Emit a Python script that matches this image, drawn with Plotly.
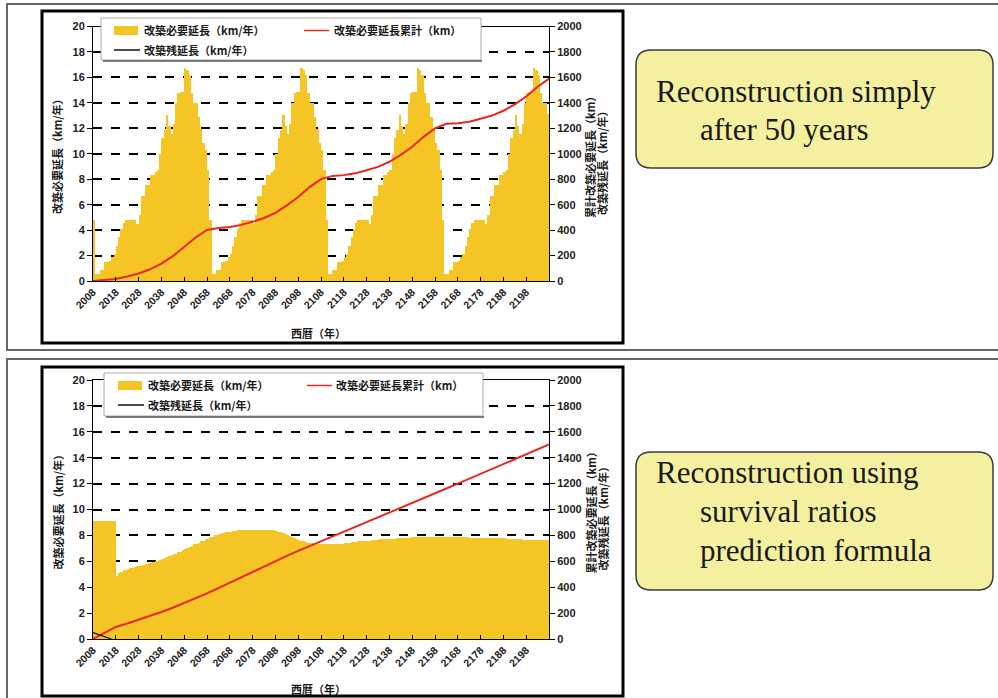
import plotly.graph_objects as go

W, H = 998, 698

# ---------------- data ----------------
years = list(range(2008, 2208))

# top chart: annual required reconstruction length (km/year), 50-ish-year cycles
top_bars_2008 = [4.8, 0.6, 0.6, 0.9, 0.9, 1.5, 1.5, 1.6, 1.9, 2.2,
                 2.8, 3.5, 4.1, 4.6, 4.8, 4.8, 4.8, 4.8, 4.8, 4.5,
                 5.2, 6.7, 6.7, 7.6, 7.6, 8.4, 8.4, 8.6, 8.8, 10.0,
                 11.3, 11.9, 13.1, 12.2, 11.6, 12.4, 14.0, 14.8, 14.9, 14.9,
                 16.8, 16.6, 16.2, 14.8, 14.0, 14.0, 12.9, 12.0, 10.9, 10.3,
                 8.8]
top_bars_2059 = [4.8, 0.6, 0.6, 0.9, 0.9, 1.5, 1.5, 1.6, 1.9, 2.2,
                 2.8, 3.5, 4.1, 4.6, 4.8, 4.8, 4.8, 4.8, 4.8, 4.5,
                 5.2, 6.7, 6.7, 7.6, 7.6, 8.4, 8.4, 8.6, 8.8, 10.0,
                 11.3, 11.9, 13.1, 12.2, 11.6, 12.4, 14.0, 14.8, 14.9, 14.9,
                 16.8, 16.6, 16.2, 14.8, 14.0, 14.0, 12.9, 12.0, 10.9, 10.3,
                 8.8]
top_bars_2110 = [4.8, 0.6, 0.6, 0.9, 0.9, 1.5, 1.5, 1.6, 1.9, 2.2,
                 2.8, 3.5, 4.1, 4.6, 4.8, 4.8, 4.8, 4.8, 4.8, 4.5,
                 5.2, 6.7, 6.7, 7.6, 7.6, 8.4, 8.4, 8.6, 8.8, 10.0,
                 11.3, 11.9, 13.1, 12.2, 11.6, 12.4, 14.0, 14.8, 14.9, 14.9,
                 16.8, 16.6, 16.2, 14.8, 14.0, 14.0, 12.9, 12.0, 10.9, 10.3,
                 8.8]
top_bars_2161 = [4.8, 0.6, 0.6, 0.9, 0.9, 1.5, 1.5, 1.6, 1.9, 2.2,
                 2.8, 3.5, 4.1, 4.6, 4.8, 4.8, 4.8, 4.8, 4.8, 4.5,
                 5.2, 6.7, 6.7, 7.6, 7.6, 8.4, 8.4, 8.6, 8.8, 10.0,
                 11.3, 11.9, 13.1, 12.2, 11.6, 12.4, 14.0, 14.8, 14.9, 14.9,
                 16.8, 16.6, 16.2, 14.8, 14.0, 14.0, 13.2]

cum_years = list(range(2008, 2209, 5))
top_cum = [0, 8, 16, 36, 59, 92, 136, 195, 265, 342,
           401, 417, 424, 441, 465, 495, 536, 594, 660, 738,
           801, 826, 832, 846, 870, 897, 937, 991, 1055, 1133,
           1199, 1235, 1240, 1252, 1275, 1300, 1338, 1388, 1450, 1527,
           1590]

# bottom chart: survival-ratio prediction
bottom_bars_2008 = [9.1, 9.1, 9.1, 9.1, 9.1, 9.1, 9.1, 9.1, 9.1, 9.1,
                    4.9, 5.1, 5.2, 5.3, 5.35, 5.4, 5.45, 5.5, 5.55, 5.6,
                    5.65, 5.7, 5.75, 5.8, 5.85, 5.9, 5.95, 6.0, 6.05, 6.1,
                    6.2, 6.25, 6.3, 6.4, 6.45, 6.55, 6.6, 6.7, 6.75, 6.85,
                    6.95, 7.05, 7.1, 7.2, 7.3, 7.35, 7.45, 7.55, 7.6, 7.7]
bottom_bars_2058 = [7.75, 7.85, 7.9, 8.0, 8.05, 8.1, 8.15, 8.2, 8.25, 8.3,
                    8.3, 8.35, 8.35, 8.4, 8.4, 8.4, 8.45, 8.45, 8.45, 8.45,
                    8.45, 8.45, 8.45, 8.45, 8.45, 8.45, 8.45, 8.4, 8.4, 8.4,
                    8.35, 8.3, 8.25, 8.2, 8.1, 8.05, 7.95, 7.9, 7.8, 7.75,
                    7.65, 7.6, 7.55, 7.5, 7.45, 7.4, 7.4, 7.35, 7.35, 7.35]
bottom_bars_2108 = [7.3, 7.3, 7.3, 7.3, 7.3, 7.3, 7.35, 7.35, 7.35, 7.35,
                    7.4, 7.45, 7.45, 7.5, 7.5, 7.5, 7.55, 7.55, 7.55, 7.6,
                    7.6, 7.6, 7.65, 7.65, 7.65, 7.7, 7.7, 7.7, 7.7, 7.75,
                    7.75, 7.75, 7.75, 7.8, 7.8, 7.8, 7.8, 7.8, 7.8, 7.85,
                    7.85, 7.85, 7.85, 7.85, 7.85, 7.85, 7.85, 7.85, 7.85, 7.85]
bottom_bars_2158 = [7.85, 7.85, 7.85, 7.85, 7.85, 7.85, 7.85, 7.85, 7.85, 7.85,
                    7.85, 7.85, 7.85, 7.85, 7.85, 7.8, 7.8, 7.8, 7.8, 7.8,
                    7.8, 7.8, 7.8, 7.8, 7.8, 7.8, 7.8, 7.8, 7.8, 7.8,
                    7.8, 7.75, 7.75, 7.75, 7.7, 7.7, 7.7, 7.7, 7.65, 7.65,
                    7.65, 7.65, 7.65, 7.65, 7.65, 7.65, 7.65, 7.65, 7.65, 7.65]
bottom_cum = [0, 46, 93, 120, 148, 177, 208, 241, 276, 313,
              352, 393, 435, 477, 519, 561, 602, 642, 680, 717,
              752, 786, 823, 860, 898, 936, 974, 1011, 1049, 1087,
              1125, 1162, 1200, 1238, 1276, 1313, 1351, 1389, 1427, 1464,
              1502]
remain_years = [2008, 2009, 2010, 2011, 2012, 2013, 2014, 2015, 2016]
bottom_remain = [50, 44, 38, 31, 25, 19, 12, 6, 0]

x_tick_vals = list(range(2008, 2209, 10))
x_tick_labels = [str(v) for v in range(2008, 2199, 10)] + [""]

legend_labels = ["改築必要延長（km/年）", "改築必要延長累計（km）", "改築残延長（km/年）"]
y_left_title = "改築必要延長（km/年）"
y_right_title1 = "累計改築必要延長（km）"
y_right_title2 = "改築残延長（km/年）"
x_title = "西暦（年）"
box_top_lines = ["Reconstruction simply", "after 50 years"]
box_bottom_lines = ["Reconstruction using", "survival ratios", "prediction formula"]

# ---------------- style ----------------
BAR = "rgb(244,197,36)"
RED = "#E8271D"
JP = "Noto Sans CJK JP"
NUM = "Liberation Sans"


def px(x):
    return x / W


def py(y):
    return 1 - y / H


top_bars = top_bars_2008 + top_bars_2059 + top_bars_2110 + top_bars_2161
bottom_bars = bottom_bars_2008 + bottom_bars_2058 + bottom_bars_2108 + bottom_bars_2158

fig = go.Figure()
fig.add_trace(go.Bar(x=years, y=top_bars, width=1, offset=0,
                     marker=dict(color=BAR, line=dict(width=0)),
                     xaxis="x", yaxis="y", showlegend=False))
fig.add_trace(go.Scatter(x=cum_years, y=top_cum, mode="lines",
                         line=dict(color=RED, width=2),
                         xaxis="x", yaxis="y2", showlegend=False))
fig.add_trace(go.Bar(x=years, y=bottom_bars, width=1, offset=0,
                     marker=dict(color=BAR, line=dict(width=0)),
                     xaxis="x2", yaxis="y3", showlegend=False))
fig.add_trace(go.Scatter(x=cum_years, y=bottom_cum, mode="lines",
                         line=dict(color=RED, width=2),
                         xaxis="x2", yaxis="y4", showlegend=False))
fig.add_trace(go.Scatter(x=remain_years, y=bottom_remain, mode="lines",
                         line=dict(color="#111", width=1.3),
                         xaxis="x2", yaxis="y4", showlegend=False))

xdom = [px(93), px(549)]
top_dom = [py(281), py(26.5)]
bot_dom = [py(639), py(380)]

numfont = dict(family=NUM, size=11, color="#222", weight="bold")
xfont = dict(family=NUM, size=10.5, color="#222", weight="bold")


def xax(anchor):
    return dict(domain=xdom, anchor=anchor, range=[2008, 2208], automargin=False,
                tickmode="array", tickvals=x_tick_vals, ticktext=x_tick_labels,
                tickangle=-45, ticks="inside", ticklen=4, tickcolor="black",
                tickwidth=1, showline=True, linecolor="black", linewidth=1,
                mirror=True, showgrid=False, zeroline=False, tickfont=xfont)


def yleft(dom, anchor):
    return dict(domain=dom, anchor=anchor, range=[0, 20], dtick=2, automargin=False,
                ticks="outside", ticklen=5, tickcolor="black",
                showline=True, linecolor="black", linewidth=1,
                showgrid=True, griddash="dash", gridcolor="black",
                gridwidth=1.5, zeroline=False, tickfont=numfont)


def yright(over, anchor):
    return dict(overlaying=over, anchor=anchor, side="right", automargin=False,
                range=[0, 2000], dtick=200, ticks="outside", ticklen=5,
                tickcolor="black", showline=True, linecolor="black",
                linewidth=1, showgrid=False, zeroline=False, tickfont=numfont)


fig.update_layout(
    template="none",
    autosize=False,
    width=W, height=H, margin=dict(l=0, r=0, t=0, b=0, pad=0, autoexpand=False),
    paper_bgcolor="white", plot_bgcolor="white", showlegend=False,
    bargap=0,
    xaxis=xax("y"), yaxis=yleft(top_dom, "x"), yaxis2=yright("y", "x"),
    xaxis2=xax("y3"), yaxis3=yleft(bot_dom, "x2"), yaxis4=yright("y3", "x2"),
)

shapes = []
ann = []


def rect(x0, y0, x1, y1, **kw):
    shapes.append(dict(type="rect", xref="paper", yref="paper",
                       x0=px(x0), x1=px(x1), y0=py(y1), y1=py(y0), **kw))


def hline(x0, x1, y, color, width):
    shapes.append(dict(type="line", xref="paper", yref="paper",
                       x0=px(x0), x1=px(x1), y0=py(y), y1=py(y),
                       line=dict(color=color, width=width)))


def text(x, y, s, size, xanchor="left", angle=0, family=JP, bold=True, color="#1a1a1a"):
    ann.append(dict(x=px(x), y=py(y), xref="paper", yref="paper",
                    text=s, showarrow=False, xanchor=xanchor, yanchor="middle",
                    textangle=angle,
                    font=dict(family=family, size=size, color=color,
                              weight="bold" if bold else "normal")))


def rounded(x0, y0, x1, y1, r):
    pts = [
        ("M", [(x0 + r, y0)]), ("L", [(x1 - r, y0)]), ("Q", [(x1, y0), (x1, y0 + r)]),
        ("L", [(x1, y1 - r)]), ("Q", [(x1, y1), (x1 - r, y1)]),
        ("L", [(x0 + r, y1)]), ("Q", [(x0, y1), (x0, y1 - r)]),
        ("L", [(x0, y0 + r)]), ("Q", [(x0, y0), (x0 + r, y0)]),
    ]
    d = ""
    for cmd, ps in pts:
        d += cmd + " " + " ".join(f"{px(a):.5f},{py(b):.5f}" for a, b in ps) + " "
    d += "Z"
    shapes.append(dict(type="path", xref="paper", yref="paper", path=d,
                       fillcolor="rgb(245,240,160)",
                       line=dict(color="#3a3a3a", width=1.5), layer="above"))


# outer panel frames
rect(7, 4, 1010, 350, line=dict(color="#666", width=2), layer="below")
rect(7, 359, 1010, 720, line=dict(color="#666", width=2), layer="below")
# inner chart frames
rect(42, 11, 623, 343, line=dict(color="black", width=3), layer="below")
rect(42, 367, 623, 696, line=dict(color="black", width=3), layer="below")

for off, (bx0, bx1, by0, by1), sw_x, red_x, txt2_x in [
    (0, (101, 481, 18, 60), 114, 304, 332),
    (355, (104, 483, 373 - 355, 416 - 355), 118, 307, 334),
]:
    rect(bx0, by0 + off, bx1, by1 + off, fillcolor="white",
         line=dict(color="#aaa", width=1), layer="above")
    hline(bx0 + 2, bx1 + 1, by1 + off + 1, "#555", 1.5)
    r1 = 30.5 + off
    r2 = 50 + off
    rect(sw_x, r1 - 4.5, sw_x + 24, r1 + 4.5, fillcolor=BAR, line=dict(width=0), layer="above")
    text(sw_x + 28, r1, legend_labels[0], 11)
    hline(red_x, red_x + 25, r1, RED, 1.5)
    text(txt2_x, r1, legend_labels[1], 11)
    hline(sw_x, sw_x + 26, r2, "#111", 1.5)
    text(sw_x + 28, r2, legend_labels[2], 11)

# axis titles
for off in (0, 355.5):
    text(57, 154 + off, y_left_title, 11, xanchor="center", angle=-90)
    text(590, 155 + off, y_right_title1, 11, xanchor="center", angle=-90)
    text(602, 160 + off, y_right_title2, 11, xanchor="center", angle=-90)
    text(318, 333 + off, x_title, 11, xanchor="center")

# text boxes
rounded(636, 50, 993, 168, 15)
rounded(636, 452, 993, 590, 15)
SERIF = "Liberation Serif"
text(654, 92, box_top_lines[0], 31, family=SERIF, bold=False)
text(698, 130, box_top_lines[1], 31, family=SERIF, bold=False)
text(654, 472, box_bottom_lines[0], 31, family=SERIF, bold=False)
text(698, 511, box_bottom_lines[1], 31, family=SERIF, bold=False)
text(698, 550, box_bottom_lines[2], 31, family=SERIF, bold=False)

fig.update_layout(shapes=shapes, annotations=ann)
fig.write_html(
    "out.html",
    config={"displayModeBar": False},
    post_script="document.body.style.margin='0px';document.body.style.padding='0px';",
)
